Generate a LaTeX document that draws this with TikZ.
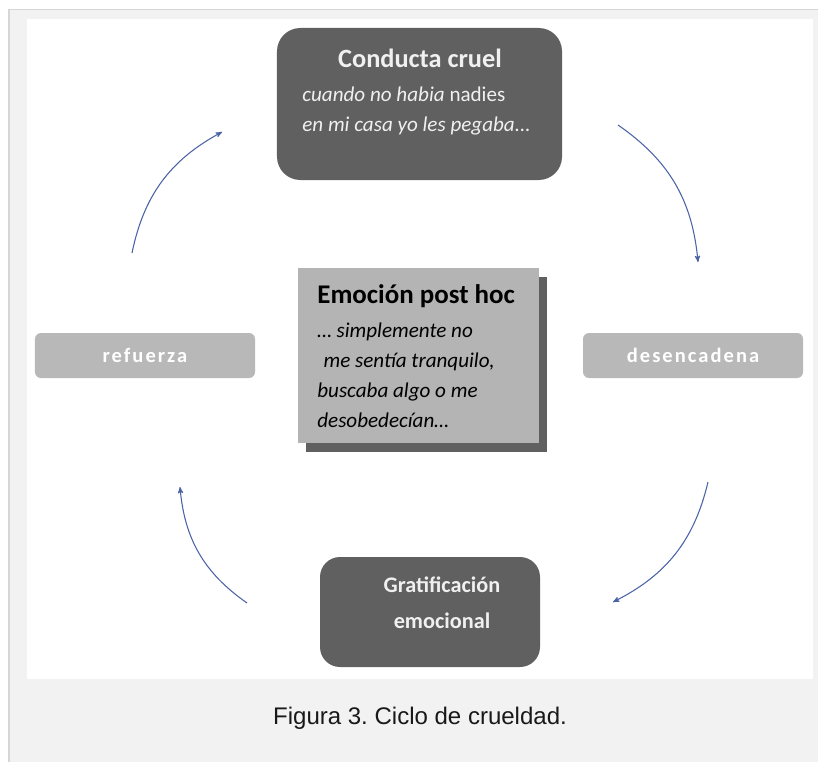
\documentclass[tikz,border=0pt]{standalone}
\usepackage{fontspec}
\setmainfont{Carlito}
\newfontfamily\captionfont{Liberation Sans}
\newfontfamily\spacedfont[LetterSpace=10]{Carlito}
\usetikzlibrary{arrows, positioning, shadows}

\definecolor{boxdark}{HTML}{606060}
\definecolor{boxlight}{HTML}{B4B4B4}
\definecolor{taggray}{HTML}{B8B8B8}
\definecolor{framegray}{HTML}{F2F2F2}
\definecolor{frameline}{HTML}{D6D6D6}
\definecolor{arrowblue}{HTML}{4A62A6}

\frenchspacing
\begin{document}
\begin{tikzpicture}[x=0.03cm, y=-0.03cm, >=stealth', semithick]
  \tikzstyle{darkbox}=[fill=boxdark, rounded corners=0.7cm, inner sep=0pt]
  \tikzstyle{lightbox}=[fill=boxlight, inner sep=0pt,
                        drop shadow={shadow xshift=0.25cm, shadow yshift=-0.27cm,
                                     fill=boxdark, opacity=1}]
  \tikzstyle{tagbox}=[fill=taggray, rounded corners=0.18cm, inner sep=0pt,
                      minimum width=6.6cm, minimum height=1.35cm, text=white,
                      font=\spacedfont\bfseries\fontsize{17.5}{19}\selectfont]
  \tikzstyle{boxtitle}=[inner sep=0pt, font=\bfseries\fontsize{22.5}{26}\selectfont]
  \tikzstyle{boxtext}=[inner sep=0pt, align=left, anchor=north west,
                       font=\fontsize{18}{25.5}\selectfont]
  \tikzstyle{cycle}=[->, draw=arrowblue, line width=0.9pt, bend left=25]

  \useasboundingbox (0,0) rectangle (818,762);
  \clip (0,0) rectangle (818,762);

  % frame
  \draw[frameline, fill=framegray, line width=0.05cm] (9,9.5) rectangle (860,800);
  \fill[white] (27,19) rectangle (813,679);

  \node[darkbox, minimum width=8.55cm, minimum height=4.56cm] (conducta) at (419.5,104) {};
  \node[boxtitle, text=white!94!black] (conductaT) at (420,58) {Conducta cruel};
  \node[boxtext, text=white!94!black] (conductaB) at (302,87)
       {\textit{cuando no habia} nadies\\\textit{en mi casa yo les pegaba...}};

  \node[lightbox, minimum width=7.23cm, minimum height=5.25cm] (emocion) at (418.5,355.5) {};
  \node[boxtitle, anchor=west, font=\bfseries\fontsize{23}{26}\selectfont] (emocionT) at (317,296)
       {Emoción post hoc};
  \node[boxtext, font=\itshape\fontsize{18}{25.5}\selectfont] (emocionB) at (317,323)
       {… simplemente no\\\hspace{0.3em}me sentía tranquilo,\\buscaba algo o me\\desobedecían…};

  \node[tagbox] (refuerza)    at (145,355.5) {refuerza};
  \node[tagbox] (desencadena) at (693,355.5) {desencadena};

  \node[darkbox, rounded corners=0.6cm, minimum width=6.6cm, minimum height=3.3cm]
       (gratificacion) at (430,612) {};
  \node[boxtitle, align=center, text=white!94!black,
        font=\bfseries\fontsize{19}{31}\selectfont] (gratificacionT) at (442,603)
       {Gratificación\\emocional};

  \node[inner sep=0pt, text=black!90, font=\captionfont\fontsize{20.5}{24}\selectfont]
       (caption) at (420,718) {Figura 3. Ciclo de crueldad.};

  % cycle arrows
  \coordinate (conductaOut)       at (618,125);
  \coordinate (desencadenaIn)     at (698,262);
  \coordinate (desencadenaOut)    at (708,482);
  \coordinate (gratificacionIn)   at (613,602);
  \coordinate (gratificacionOut)  at (247,603);
  \coordinate (refuerzaIn)        at (180,487);
  \coordinate (refuerzaOut)       at (132,253);
  \coordinate (conductaIn)        at (222,132);

  \draw[cycle] (conductaOut)      to (desencadenaIn);
  \draw[cycle] (desencadenaOut)   to (gratificacionIn);
  \draw[cycle] (gratificacionOut) to (refuerzaIn);
  \draw[cycle] (refuerzaOut)      to (conductaIn);
\end{tikzpicture}
\end{document}
